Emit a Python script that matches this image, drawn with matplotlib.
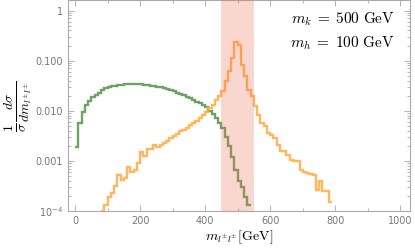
import numpy as np
import matplotlib
matplotlib.use("Agg")
import matplotlib.pyplot as plt
from matplotlib.ticker import FixedLocator, LogLocator, NullFormatter

plt.rcParams['mathtext.fontset'] = 'cm'

# Green histogram: bins of 10 GeV starting at 0
green_start = 0
green_vals = [0.0019, 0.0057, 0.0094, 0.0132, 0.0155, 0.0188, 0.0209, 0.0226, 0.0255, 0.0284,
              0.0295, 0.0306, 0.0318, 0.0325, 0.0332, 0.0338, 0.0342, 0.0345, 0.0345, 0.0342,
              0.0338, 0.0332, 0.0325, 0.0318, 0.0310, 0.0302, 0.0292, 0.0282, 0.0270, 0.0258,
              0.0243, 0.0230, 0.0218, 0.0205, 0.0190, 0.0178, 0.0165, 0.0152, 0.0140, 0.0128,
              0.0116, 0.0100, 0.0086, 0.0072, 0.0058, 0.0045, 0.0030, 0.0020, 0.0012, 0.00066,
              0.00040, 0.00030, 0.00019, 0.00013]

# Orange histogram: bins of 10 GeV starting at 80
orange_start = 80
orange_vals = [1.01e-4, 1.32e-4, 1.93e-4, 2.26e-4, 3.16e-4, 5.25e-4, 4.2e-4, 4.6e-4, 7.5e-4, 6.1e-4,
               6.6e-4, 9.0e-4, 1.47e-3, 1.26e-3, 1.71e-3, 1.71e-3, 2.09e-3, 1.9e-3, 2.1e-3, 2.3e-3,
               2.5e-3, 2.9e-3, 3.2e-3, 3.5e-3, 3.9e-3, 4.1e-3, 4.6e-3, 5.1e-3, 5.7e-3, 6.2e-3,
               7.0e-3, 8.2e-3, 9.5e-3, 0.0113, 0.0132, 0.0161, 0.0193, 0.0243, 0.0386, 0.061,
               0.113, 0.235, 0.209, 0.083, 0.0485, 0.0263, 0.0193, 0.0122, 0.0083, 0.0058,
               0.0049, 0.0036, 0.0033, 0.0028, 0.0021, 0.0016, 0.0016, 0.00132, 0.00105, 0.0010,
               0.0010, 0.00066, 0.00061, 0.00057, 0.00055, 0.00052, 0.00026, 0.0004, 0.00025, 0.00025,
               0.00015]
bin_width = 10

band = (450, 550)
x_ticks = [0, 200, 400, 600, 800, 1000]
y_ticks = [1e-4, 1e-3, 1e-2, 1e-1, 1]
y_ticklabels = [r"$\mathdefault{10^{-4}}$", "0.001", "0.010", "0.100", "1"]
annot = [r"$m_k\;=\;500\ \mathrm{GeV}$", r"$m_h\;=\;100\ \mathrm{GeV}$"]

fig = plt.figure(figsize=(4.15, 2.49), dpi=100)
ax = fig.add_axes([0.164, 0.153, 0.824, 0.845])

g_edges = green_start + bin_width * np.arange(len(green_vals) + 1)
o_edges = orange_start + bin_width * np.arange(len(orange_vals) + 1)

ax.stairs(green_vals, g_edges, color='#5f9654', lw=1.7, alpha=0.9, baseline=None)
ax.stairs(orange_vals, o_edges, color='#ffa940', lw=1.7, alpha=0.85, baseline=None)
ax.axvspan(band[0], band[1], color='#ec6e50', alpha=0.28, lw=0, zorder=3)

ax.set_yscale('log')
ax.set_xlim(-22, 1030)
ax.set_ylim(1e-4, 10 ** 0.2)

gray = '#777777'
ax.set_xticks(x_ticks)
ax.set_xticklabels([str(t) for t in x_ticks])
ax.xaxis.set_minor_locator(FixedLocator(np.arange(0, 1001, 100)))
ax.yaxis.set_major_locator(FixedLocator(y_ticks))
ax.set_yticklabels(y_ticklabels)
ax.yaxis.set_minor_locator(LogLocator(base=10, subs=np.arange(2, 10)))
ax.yaxis.set_minor_formatter(NullFormatter())
ax.tick_params(which='both', direction='in', colors='#aaaaaa', labelcolor=gray,
               labelsize=7, top=True, right=True, width=0.6)
ax.tick_params(which='major', length=4)
ax.tick_params(which='minor', length=2)
for s in ax.spines.values():
    s.set_color('#aaaaaa')
    s.set_linewidth(0.8)

ax.set_xlabel(r"$m_{l^{\pm}l^{\pm}}[\mathrm{GeV}]$", fontsize=10, labelpad=2)
ax.set_ylabel(r"$\frac{1}{\sigma}\frac{d\sigma}{dm_{l^{\pm}l^{\pm}}}$", fontsize=14)
ax.yaxis.set_label_coords(-0.1, 0.5)

ax.text(0.955, 0.91, annot[0], transform=ax.transAxes, ha='right', va='center', fontsize=11)
ax.text(0.955, 0.795, annot[1], transform=ax.transAxes, ha='right', va='center', fontsize=11)

fig.savefig('out.png', dpi=100)
